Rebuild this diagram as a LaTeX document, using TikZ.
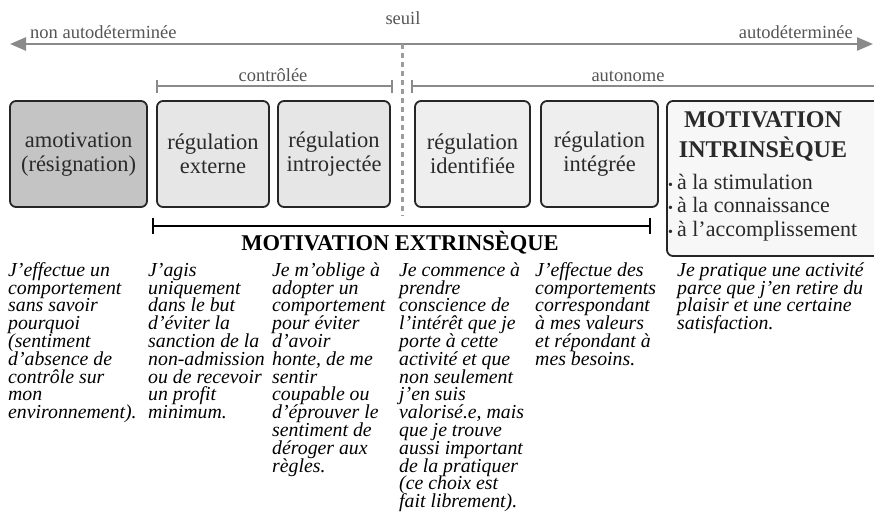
\documentclass[tikz,border=0pt]{standalone}
\usepackage{fontspec}
\setmainfont{Liberation Serif}
\usetikzlibrary{arrows.meta}
\definecolor{axisgray}{HTML}{8A8A8A}
\definecolor{labgray}{HTML}{555555}
\definecolor{boxtext}{HTML}{2A2A2A}
\definecolor{fillA}{HTML}{C4C4C4}
\definecolor{fillB}{HTML}{E6E6E6}
\definecolor{fillC}{HTML}{EEEEEE}
\definecolor{fillD}{HTML}{F7F7F7}
\newcommand\mydescfont{\fontsize{19.8}{17.8}\selectfont\itshape\lineskiplimit=-50pt\relax\lineskip=0pt\relax}
\begin{document}
\begin{tikzpicture}[x=1pt,y=-1pt,
  levelbox/.style={draw=black!85, line width=1.8pt, rounded corners=6pt, inner sep=0pt,
     align=center, text=boxtext, font=\fontsize{22.5}{24}\selectfont},
  toplab/.style={inner sep=0pt, text=labgray, font=\fontsize{18.5}{20}\selectfont},
  axisline/.style={draw=axisgray, line width=2.5pt},
  desc/.style={inner sep=0pt, anchor=north west, align=left, text=black, font=\mydescfont},
  bullettxt/.style={inner sep=0pt, anchor=base west, text=boxtext, font=\fontsize{22}{24}\selectfont}
]
\useasboundingbox (0,0) rectangle (874,515);
\clip (0,0) rectangle (874,515);

% top axis
\coordinate (axL) at (10,44);
\coordinate (axR) at (873,44);
\draw[axisline, {Triangle[length=16pt,width=13pt]}-{Triangle[length=16pt,width=13pt]}] (axL) -- (axR);
\node[toplab, anchor=base west] (nonauto) at (30,38) {non autodéterminée};
\node[toplab, anchor=base east] (auto) at (853,38) {autodéterminée};
\node[toplab, anchor=base] (seuil) at (403,24) {seuil};

% threshold dashed line
\coordinate (sTop) at (402,44);
\coordinate (sBot) at (402,216);
\draw[draw=axisgray!85, line width=3pt, dash pattern=on 5pt off 4pt] (sTop) -- (sBot);

% controlled / autonomous brackets
\coordinate (cL) at (157,86);
\coordinate (cR) at (392,86);
\draw[axisline] (cL) -- (cR);
\draw[axisline] ([yshift=-6.5pt]cL) -- ([yshift=6.5pt]cL);
\draw[axisline] ([yshift=-6.5pt]cR) -- ([yshift=6.5pt]cR);
\node[toplab, anchor=base] (controlee) at (273,81) {contrôlée};

\coordinate (aL) at (412,86);
\coordinate (aR) at (885,86);
\draw[axisline] (aL) -- (aR);
\draw[axisline] ([yshift=-6.5pt]aL) -- ([yshift=6.5pt]aL);
\node[toplab, anchor=base] (autonome) at (628,81) {autonome};

% boxes
\node[levelbox, fill=fillA, minimum width=137pt, minimum height=106pt] (b1) at (78.5,154) {amotivation\\(résignation)};
\node[levelbox, fill=fillB, minimum width=112pt, minimum height=106pt] (b2) at (213,154) {régulation\\externe};
\node[levelbox, fill=fillB, minimum width=112pt, minimum height=106pt] (b3) at (334,154) {régulation\\introjectée};
\node[levelbox, fill=fillC, minimum width=115pt, minimum height=106pt] (b4) at (472.5,154) {régulation\\identifiée};
\node[levelbox, fill=fillC, minimum width=117pt, minimum height=106pt] (b5) at (599.5,154) {régulation\\intégrée};
\node[levelbox, fill=fillD, minimum width=213pt, minimum height=155pt] (b6) at (773.5,178.5) {};

\node[inner sep=0pt, text=boxtext, font=\fontsize{24}{26}\bfseries\selectfont, anchor=base] (mi1) at (763,127) {MOTIVATION};
\node[inner sep=0pt, text=boxtext, font=\fontsize{24}{26}\bfseries\selectfont, anchor=base] (mi2) at (763,157) {INTRINSÈQUE};
\node[bullettxt] (bu1) at (668,189) {\fontsize{14}{14}\selectfont•\hspace{4pt}\fontsize{22}{24}\selectfont à la stimulation};
\node[bullettxt] (bu2) at (668,212) {\fontsize{14}{14}\selectfont•\hspace{4pt}\fontsize{22}{24}\selectfont à la connaissance};
\node[bullettxt] (bu3) at (668,236) {\fontsize{14}{14}\selectfont•\hspace{4pt}\fontsize{22}{24}\selectfont à l’accomplissement};

% extrinsic bracket
\coordinate (eL) at (153,226);
\coordinate (eR) at (650,226);
\draw[black, line width=2.5pt] (eL) -- (eR);
\draw[black, line width=2.5pt] ([yshift=-8pt]eL) -- ([yshift=8pt]eL);
\draw[black, line width=2.5pt] ([yshift=-8pt]eR) -- ([yshift=8pt]eR);
\node[inner sep=0pt, anchor=base, font=\fontsize{22.5}{24}\bfseries\selectfont] (extr) at (400,250) {MOTIVATION EXTRINSÈQUE};

% descriptions
\node[desc] (d1) at (8,262) {\rule{0pt}{14pt}J’effectue un\\comportement\\sans savoir\\pourquoi\\(sentiment\\d’absence de\\contrôle sur\\mon\\environnement).};
\node[desc] (d2) at (148,262) {\rule{0pt}{14pt}J’agis\\uniquement\\dans le but\\d’éviter la\\sanction de la\\non-admission\\ou de recevoir\\un profit\\minimum.};
\node[desc] (d3) at (272,262) {\rule{0pt}{14pt}Je m’oblige à\\adopter un\\comportement\\pour éviter\\d’avoir\\honte, de me\\sentir\\coupable ou\\d’éprouver le\\sentiment de\\déroger aux\\règles.};
\node[desc] (d4) at (399,262) {\rule{0pt}{14pt}Je commence à\\prendre\\conscience de\\l’intérêt que je\\porte à cette\\activité et que\\non seulement\\j’en suis\\valorisé.e, mais\\que je trouve\\aussi important\\de la pratiquer\\(ce choix est\\fait librement).};
\node[desc] (d5) at (535,262) {\rule{0pt}{14pt}J’effectue des\\comportements\\correspondant\\à mes valeurs\\et répondant à\\mes besoins.};
\node[desc] (d6) at (677,262) {\rule{0pt}{14pt}Je pratique une activité\\parce que j’en retire du\\plaisir et une certaine\\satisfaction.};
\end{tikzpicture}
\end{document}
